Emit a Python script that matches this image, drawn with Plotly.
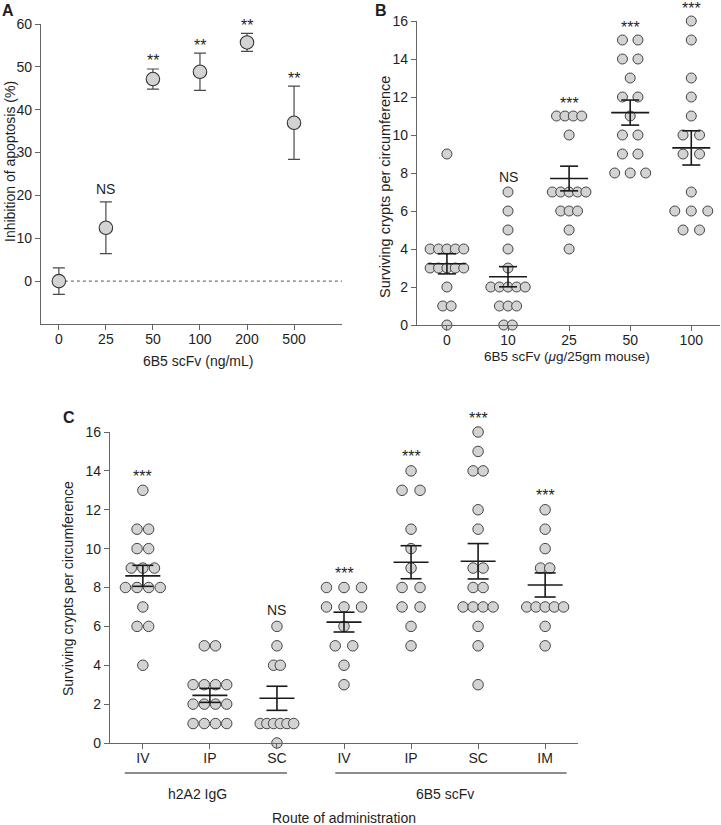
import numpy as np
from collections import Counter
import plotly.graph_objects as go

W, H = 721, 825
def px(x): return x / W
def py(y): return 1 - y / H

FONT = "Liberation Sans, Arial, Helvetica, sans-serif"

# ---------------- Panel A data ----------------
a_doses = ["0", "25", "50", "100", "200", "500"]
a_mean = [0.0, 12.45, 47.15, 48.85, 55.7, 36.95]
a_err = [3.1, 6.05, 2.35, 4.35, 2.1, 8.55]
a_sig = ["", "NS", "**", "**", "**", "**"]

# ---------------- Panel B data ----------------
b_doses = ["0", "10", "25", "50", "100"]
b_g0 = [9, 4, 4, 4, 4, 4, 3, 3, 3, 3, 3, 2, 1, 1, 0]
b_g10 = [7, 6, 5, 4, 3, 2, 2, 2, 2, 2, 1, 1, 1, 0, 0]
b_g25 = [11, 11, 11, 11, 10, 7, 7, 7, 7, 7, 6, 6, 6, 5, 4]
b_g50 = [15, 15, 14, 14, 13, 12, 12, 11, 10, 10, 9, 9, 8, 8, 8]
b_g100 = [16, 15, 13, 12, 11, 10, 10, 9, 9, 7, 6, 6, 6, 5, 5]
b_points = [b_g0, b_g10, b_g25, b_g50, b_g100]
b_mean = [3.22, 2.54, 7.71, 11.18, 9.32]
b_sem = [0.53, 0.53, 0.65, 0.66, 0.90]
b_sig = ["", "NS", "***", "***", "***"]

# ---------------- Panel C data ----------------
c_routes = ["IV", "IP", "SC", "IV", "IP", "SC", "IM"]
c_iv_igg = [13, 11, 11, 10, 10, 9, 9, 9, 8, 8, 8, 8, 7, 6, 6, 4]
c_ip_igg = [5, 5, 3, 3, 3, 3, 2, 2, 2, 2, 1, 1, 1, 1]
c_sc_igg = [6, 5, 4, 4, 1, 1, 1, 1, 1, 1, 0]
c_iv_scfv = [8, 8, 8, 7, 7, 7, 6, 5, 5, 4, 3]
c_ip_scfv = [14, 13, 13, 11, 10, 9, 8, 8, 7, 7, 6, 5]
c_sc_scfv = [16, 15, 14, 14, 12, 11, 9, 9, 8, 8, 7, 7, 7, 7, 6, 5, 3]
c_im_scfv = [12, 11, 10, 9, 9, 7, 7, 7, 7, 7, 6, 5]
c_points = [c_iv_igg, c_ip_igg, c_sc_igg, c_iv_scfv, c_ip_scfv, c_sc_scfv, c_im_scfv]
c_mean = [8.60, 2.45, 2.30, 6.22, 9.30, 9.35, 8.13]
c_sem = [0.54, 0.36, 0.62, 0.51, 0.85, 0.91, 0.62]
c_sig = ["***", "", "NS", "***", "***", "***", "***"]
c_groups = ["h2A2 IgG", "6B5 scFv"]

# ---------------- styling / layout constants ----------------
A_XR = [-0.38, 6.02]
B_XR = [-0.49, 4.47]
C_XR = [-0.49, 6.49]
A_DOM_X = [px(41), px(342)]
B_DOM_X = [px(417), px(720)]
C_DOM_X = [px(110), px(578)]
A_DOM_Y = [py(324), py(24)]
B_DOM_Y = [py(325), py(21)]
C_DOM_Y = [py(743), py(432)]

b_ppc = (720 - 417) / (B_XR[1] - B_XR[0])
c_ppc = (578 - 110) / (C_XR[1] - C_XR[0])
b_spacing_px = [8.4, 8.6, 8.4, 15.5, 16.5]
c_spacing_px = [11.6, 11.2, 6.7, 17.5, 18.0, 10.0, 9.2]

MK_FILL = "#d3d3d3"
MK_LINE = "#444444"
AX_COL = "#666666"
TXT = "#1e1e1e"


def swarm(vals, center, spacing):
    xs, ys = [], []
    cnt = Counter(vals)
    for v in sorted(cnt):
        n = cnt[v]
        for k in range(n):
            xs.append(center + (k - (n - 1) / 2) * spacing)
            ys.append(v)
    return xs, ys


def mean_sem_lines(means, sems, half_mean, half_cap):
    xs, ys = [], []
    for i, (m, s) in enumerate(zip(means, sems)):
        xs += [i - half_mean, i + half_mean, None]
        ys += [m, m, None]
        xs += [i, i, None]
        ys += [m - s, m + s, None]
        xs += [i - half_cap, i + half_cap, None]
        ys += [m + s, m + s, None]
        xs += [i - half_cap, i + half_cap, None]
        ys += [m - s, m - s, None]
    return xs, ys


fig = go.Figure()

# ---- Panel A ----
fig.add_trace(go.Scatter(
    x=list(range(len(a_doses))), y=a_mean, mode="markers",
    xaxis="x", yaxis="y",
    error_y=dict(type="data", array=a_err, color="#4a4a4a", thickness=1.2, width=6),
    marker=dict(size=13.5, color=MK_FILL, line=dict(color="#333333", width=1.1)),
    cliponaxis=False, showlegend=False, hoverinfo="skip"))

# ---- Panel B ----
for i, vals in enumerate(b_points):
    xs, ys = swarm(vals, i, b_spacing_px[i] / b_ppc)
    fig.add_trace(go.Scatter(
        x=xs, y=ys, mode="markers", xaxis="x2", yaxis="y2",
        marker=dict(size=10, color=MK_FILL, line=dict(color=MK_LINE, width=1)),
        cliponaxis=False, showlegend=False, hoverinfo="skip"))
xs, ys = mean_sem_lines(b_mean, b_sem, 19 / b_ppc, 9 / b_ppc)
fig.add_trace(go.Scatter(x=xs, y=ys, mode="lines", xaxis="x2", yaxis="y2",
                         line=dict(color="#1a1a1a", width=1.6),
                         cliponaxis=False, showlegend=False, hoverinfo="skip"))

# ---- Panel C ----
for i, vals in enumerate(c_points):
    xs, ys = swarm(vals, i, c_spacing_px[i] / c_ppc)
    fig.add_trace(go.Scatter(
        x=xs, y=ys, mode="markers", xaxis="x3", yaxis="y3",
        marker=dict(size=10.5, color=MK_FILL, line=dict(color=MK_LINE, width=1)),
        cliponaxis=False, showlegend=False, hoverinfo="skip"))
xs, ys = mean_sem_lines(c_mean, c_sem, 17.5 / c_ppc, 10.5 / c_ppc)
fig.add_trace(go.Scatter(x=xs, y=ys, mode="lines", xaxis="x3", yaxis="y3",
                         line=dict(color="#1a1a1a", width=1.6),
                         cliponaxis=False, showlegend=False, hoverinfo="skip"))

tickfont = dict(family=FONT, size=14, color=TXT)
common_y = dict(showline=True, linecolor=AX_COL, linewidth=1.3, ticks="outside",
                ticklen=5, tickcolor=AX_COL, tickwidth=1.3, showgrid=False,
                zeroline=False, tickfont=tickfont, automargin=False)
common_x = dict(showline=True, linecolor=AX_COL, linewidth=1.3, ticks="outside",
                ticklen=5, tickcolor=AX_COL, tickwidth=1.3, showgrid=False,
                zeroline=False, tickfont=tickfont, tickmode="array",
                ticklabelstandoff=-3, automargin=False)

fig.update_layout(
    width=W, height=H, margin=dict(l=0, r=0, t=0, b=0, pad=0, autoexpand=False),
    paper_bgcolor="white", plot_bgcolor="white",
    font=dict(family=FONT, color=TXT),
    xaxis=dict(domain=A_DOM_X, range=A_XR, anchor="y",
               tickvals=list(range(len(a_doses))), ticktext=a_doses, **common_x),
    yaxis=dict(domain=A_DOM_Y, range=[-10, 60], anchor="x",
               tickvals=[0, 10, 20, 30, 40, 50, 60], **common_y),
    xaxis2=dict(domain=B_DOM_X, range=B_XR, anchor="y2",
                tickvals=list(range(len(b_doses))), ticktext=b_doses, **common_x),
    yaxis2=dict(domain=B_DOM_Y, range=[0, 16], anchor="x2",
                tickvals=list(range(0, 17, 2)), **common_y),
    xaxis3=dict(domain=C_DOM_X, range=C_XR, anchor="y3",
                tickvals=list(range(len(c_routes))), ticktext=c_routes, **common_x),
    yaxis3=dict(domain=C_DOM_Y, range=[0, 16], anchor="x3",
                tickvals=list(range(0, 17, 2)), **common_y),
)

# dotted zero line in A
fig.add_shape(type="line", xref="x", yref="y", x0=0, x1=A_XR[1], y0=0, y1=0,
              line=dict(color="#777777", width=1.2, dash="dot"), layer="below")

# group underlines in C
fig.add_shape(type="line", xref="x3", yref="paper", x0=-0.27, x1=2.15,
              y0=py(773), y1=py(773), line=dict(color="#1a1a1a", width=1.1))
fig.add_shape(type="line", xref="x3", yref="paper", x0=2.87, x1=6.32,
              y0=py(773), y1=py(773), line=dict(color="#1a1a1a", width=1.1))

ann = []
def txt(text, x, y, size=14, xref="paper", yref="paper", angle=0, bold=False,
        xanchor="center", yanchor="middle", yshift=0):
    ann.append(dict(text=("<b>%s</b>" % text) if bold else text, x=x, y=y, xref=xref,
                    yref=yref, showarrow=False, textangle=angle, xanchor=xanchor,
                    yanchor=yanchor, yshift=yshift,
                    font=dict(family=FONT, size=size, color=TXT)))

# significance labels
for i, s in enumerate(a_sig):
    if s:
        top = a_mean[i] + a_err[i]
        if s == "NS":
            txt(s, i, top, size=14, xref="x", yref="y", yshift=13)
        else:
            txt(s, i, top, size=16, xref="x", yref="y", yshift=8)
for i, s in enumerate(b_sig):
    if s:
        top = max(b_points[i])
        if s == "NS":
            txt(s, i, top, size=14, xref="x2", yref="y2", yshift=15)
        else:
            txt(s, i, top, size=16, xref="x2", yref="y2", yshift=13)
for i, s in enumerate(c_sig):
    if s:
        top = max(c_points[i])
        if s == "NS":
            txt(s, i, top, size=14, xref="x3", yref="y3", yshift=16)
        else:
            txt(s, i, top, size=16, xref="x3", yref="y3", yshift=14)

# axis titles
txt("Inhibition of apoptosis (%)", px(10), py(162), size=14, angle=-90)
txt("6B5 scFv (ng/mL)", px(198), py(361), size=14)
txt("Surviving crypts per circumference", px(385), py(187), size=14.5, angle=-90)
txt("6B5 scFv (<i>μ</i>g/25gm mouse)", px(567), py(356), size=13.5)
txt("Surviving crypts per circumference", px(68), py(589), size=14, angle=-90)
txt("Route of administration", px(344), py(818), size=14)
txt(c_groups[0], 0.81, py(794), size=14, xref="x3")
txt(c_groups[1], 4.5, py(794), size=14, xref="x3")

# panel letters
txt("A", px(0), py(0), size=16, bold=True, xanchor="left", yanchor="top")
txt("B", px(373), py(0), size=16, bold=True, xanchor="left", yanchor="top")
txt("C", px(61), py(407), size=16, bold=True, xanchor="left", yanchor="top")

fig.update_layout(annotations=ann)
fig.write_html("out.html", config={"displayModeBar": False},
               post_script="document.body.style.margin='0';document.body.style.overflow='hidden';")
